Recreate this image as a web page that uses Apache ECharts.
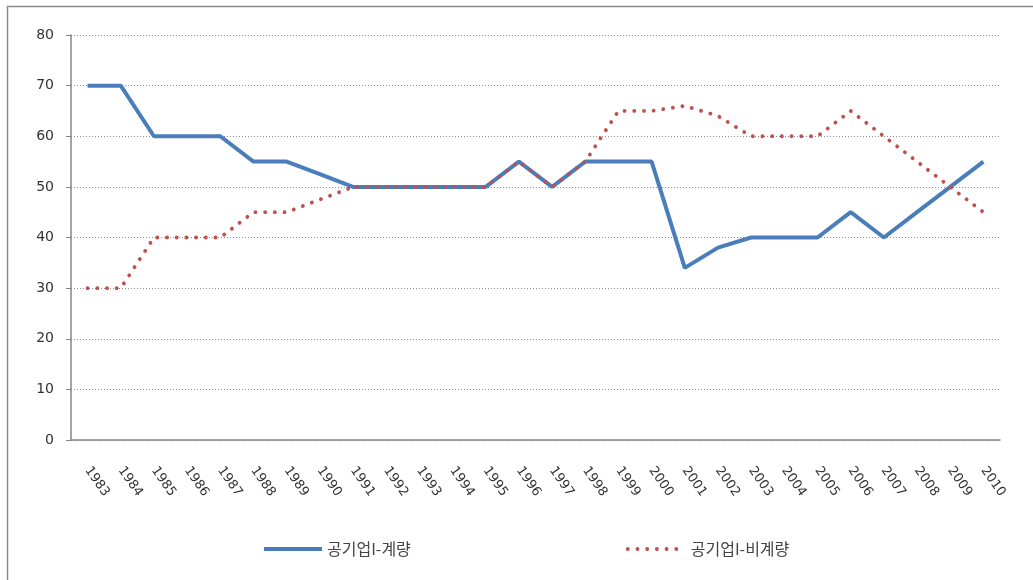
<!DOCTYPE html>
<html>
<head>
<meta charset="utf-8">
<script src="https://cdn.jsdelivr.net/npm/echarts@6/dist/echarts.min.js"></script>
<style>
html, body { margin: 0; padding: 0; background: #fff; }
#chart { width: 1033px; height: 580px; }
</style>
</head>
<body>
<div id="chart"></div>
<script>
// 연도
var years = ['1983', '1984', '1985', '1986', '1987', '1988', '1989', '1990', '1991', '1992',
	'1993', '1994', '1995', '1996', '1997', '1998', '1999', '2000', '2001', '2002',
	'2003', '2004', '2005', '2006', '2007', '2008', '2009', '2010'];
// 공기업I-계량
var gyeryang = [70, 70, 60, 60, 60, 55, 55, 52.5, 50, 50,
	50, 50, 50, 55, 50, 55, 55, 55, 34, 38,
	40, 40, 40, 45, 40, 45, 50, 55];
// 공기업I-비계량
var bigyeryang = [30, 30, 40, 40, 40, 45, 45, 47.5, 50, 50,
	50, 50, 50, 55, 50, 55, 65, 65, 66, 64,
	60, 60, 60, 65, 60, 55, 50, 45];
var seriesNames = ['공기업I-계량', '공기업I-비계량'];

var font = "'Noto Sans CJK KR', 'DejaVu Sans', sans-serif";
var numFont = "'DejaVu Sans', sans-serif";
var dotStyle = {
	color : '#C0504D',
	width : 3.8,
	type : [0.1, 9.6],
	cap : 'round'
};

var obj = echarts.init(document.getElementById('chart'));
var option = {
	animation : false,
	textStyle : { fontFamily : font },
	graphic : [
		{
			type : 'rect',
			shape : { x : 7.5, y : 6.5, width : 1100, height : 700 },
			style : { fill : 'none', stroke : '#8a8a8a', lineWidth : 1.5 },
			silent : true
		}
	],
	legend : {
		top : 536,
		left : 257,
		itemWidth : 58,
		itemHeight : 14,
		itemGap : 215,
		textStyle : { color : '#444', fontSize : 16, fontFamily : font },
		data : [
			{ name : seriesNames[0], itemStyle : { opacity : 0 }, lineStyle : { color : '#4A7EBB', width : 4, opacity : 1 } },
			{ name : seriesNames[1], itemStyle : { opacity : 0 }, lineStyle : dotStyle }
		]
	},
	grid : {
		left : 71,
		right : 33,
		top : 35,
		bottom : 140
	},
	xAxis : {
		type : 'category',
		data : years,
		boundaryGap : true,
		axisLine : { lineStyle : { color : '#868686', width : 1.5 } },
		axisTick : { show : false },
		axisLabel : {
			interval : 0,
			rotate : -55,
			margin : 28,
			color : '#333',
			fontSize : 13,
			fontFamily : numFont
		}
	},
	yAxis : {
		type : 'value',
		min : 0,
		max : 80,
		interval : 10,
		axisLine : { show : true, lineStyle : { color : '#868686', width : 1.5 } },
		axisTick : { show : true, length : 5, lineStyle : { color : '#868686' } },
		axisLabel : { color : '#333', fontSize : 14, margin : 17, fontFamily : numFont },
		splitLine : { lineStyle : { color : '#8c8c8c', type : [1, 2], width : 1 } }
	},
	series : [
		{
			name : seriesNames[0],
			type : 'line',
			data : gyeryang,
			symbol : 'none',
			color : '#4A7EBB',
			lineStyle : { color : '#4A7EBB', width : 4 },
			z : 2
		}, {
			name : seriesNames[1],
			type : 'line',
			data : bigyeryang,
			symbol : 'none',
			color : '#C0504D',
			lineStyle : dotStyle,
			z : 3
		}
	]
};
obj.setOption(option);
</script>
</body>
</html>
